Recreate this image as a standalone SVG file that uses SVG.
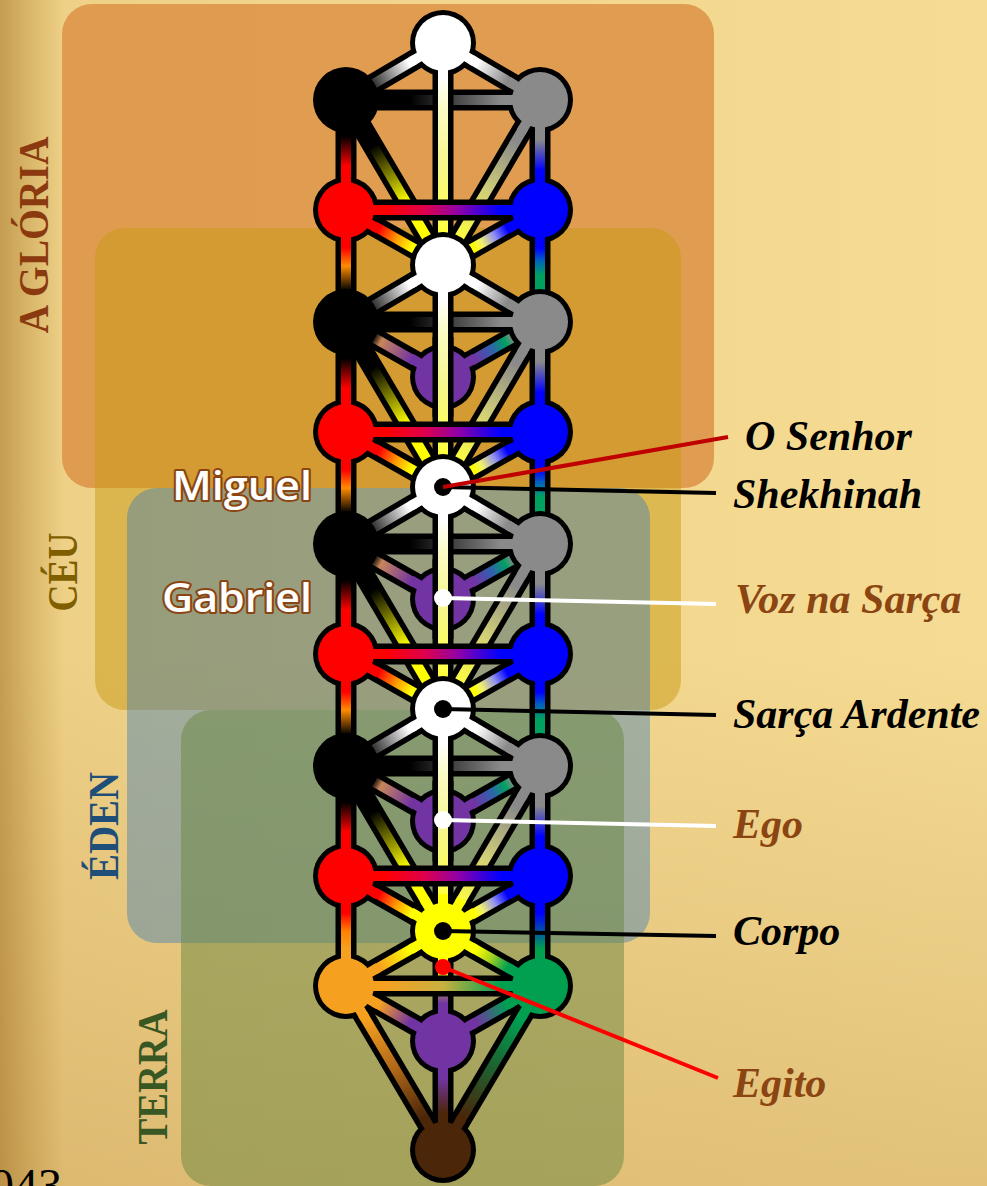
<svg xmlns="http://www.w3.org/2000/svg" width="987" height="1186" viewBox="0 0 987 1186">
<style>
.o{stroke:#000;stroke-width:21;stroke-linecap:round}
.ob{stroke:#000;stroke-width:21;stroke-linecap:butt}
.i{stroke-width:10;stroke-linecap:butt;fill:none}
.sp{stroke-width:10;stroke-linecap:butt;fill:none}
.ring{fill:#000}
.region{font-family:"Liberation Serif","Times New Roman",serif;font-weight:bold;font-size:42px}
.lbl{font-family:"Liberation Serif","Times New Roman",serif;font-weight:bold;font-style:italic;font-size:42px}
.angel{font-family:"Open Sans","Noto Sans",sans-serif;font-weight:600;font-size:39px;fill:#fff;stroke:#8b4513;stroke-width:4;paint-order:stroke;stroke-linejoin:round}
</style>
<defs>
<linearGradient id="bgH" x1="0" y1="0" x2="1" y2="0">
<stop offset="0" stop-color="#c49c52"/><stop offset=".035" stop-color="#dcbb6e"/><stop offset=".065" stop-color="#eed087"/><stop offset=".3" stop-color="#f1d48c"/><stop offset="1" stop-color="#f5db93"/>
</linearGradient>
<linearGradient id="bgV" x1="0" y1="0" x2="0" y2="1">
<stop offset="0" stop-color="#a06a20" stop-opacity="0"/><stop offset=".55" stop-color="#a06a20" stop-opacity="0"/><stop offset="1" stop-color="#a06a20" stop-opacity=".22"/>
</linearGradient>
<linearGradient id="gWB" gradientUnits="userSpaceOnUse" x1="443" y1="0" x2="346" y2="57"><stop offset=".35" stop-color="#fff"/><stop offset=".8" stop-color="#000"/></linearGradient>
<linearGradient id="gWG" gradientUnits="userSpaceOnUse" x1="443" y1="0" x2="540" y2="57"><stop offset=".35" stop-color="#fff"/><stop offset=".66" stop-color="#8a8a8a"/></linearGradient>
<linearGradient id="gBG" gradientUnits="userSpaceOnUse" x1="346" y1="57" x2="540" y2="57"><stop offset=".33" stop-color="#000"/><stop offset=".8" stop-color="#8a8a8a"/></linearGradient>
<linearGradient id="gBR" gradientUnits="userSpaceOnUse" x1="346" y1="57" x2="346" y2="167"><stop offset=".33" stop-color="#000"/><stop offset=".6" stop-color="#f00"/></linearGradient>
<linearGradient id="gGBl" gradientUnits="userSpaceOnUse" x1="540" y1="57" x2="540" y2="167"><stop offset=".36" stop-color="#8a8a8a"/><stop offset=".64" stop-color="#00f"/></linearGradient>
<linearGradient id="gBP" gradientUnits="userSpaceOnUse" x1="346" y1="57" x2="443" y2="112"><stop offset=".28" stop-color="#000"/><stop offset=".36" stop-color="#c8865a"/><stop offset=".68" stop-color="#7134a2"/></linearGradient>
<linearGradient id="gGP" gradientUnits="userSpaceOnUse" x1="540" y1="57" x2="443" y2="112"><stop offset=".28" stop-color="#8a8a8a"/><stop offset=".36" stop-color="#00a060"/><stop offset=".5" stop-color="#3060b0"/><stop offset=".68" stop-color="#7134a2"/></linearGradient>
<linearGradient id="gBW" gradientUnits="userSpaceOnUse" x1="346" y1="57" x2="443" y2="222"><stop offset=".28" stop-color="#000"/><stop offset=".45" stop-color="#808000"/><stop offset=".62" stop-color="#ffff00"/></linearGradient>
<linearGradient id="gGW" gradientUnits="userSpaceOnUse" x1="540" y1="57" x2="443" y2="222"><stop offset=".25" stop-color="#8a8a8a"/><stop offset=".55" stop-color="#d0ce78"/><stop offset=".85" stop-color="#ffff40"/></linearGradient>
<linearGradient id="gCV" gradientUnits="userSpaceOnUse" x1="443" y1="0" x2="443" y2="222"><stop offset=".15" stop-color="#fff"/><stop offset=".3" stop-color="#fbfbc4"/><stop offset=".55" stop-color="#f6f68c"/><stop offset=".8" stop-color="#ffff50"/><stop offset="1" stop-color="#ff0"/></linearGradient>
<linearGradient id="gRW" gradientUnits="userSpaceOnUse" x1="346" y1="167" x2="443" y2="222"><stop offset=".34" stop-color="#f00"/><stop offset=".52" stop-color="#ff9a00"/><stop offset=".68" stop-color="#ff0"/></linearGradient>
<linearGradient id="gBlW" gradientUnits="userSpaceOnUse" x1="540" y1="167" x2="443" y2="222"><stop offset=".34" stop-color="#00f"/><stop offset=".47" stop-color="#9090f0"/><stop offset=".6" stop-color="#f0f070"/><stop offset=".68" stop-color="#ff0"/></linearGradient>
<linearGradient id="gRBl" gradientUnits="userSpaceOnUse" x1="346" y1="167" x2="540" y2="167"><stop offset=".2" stop-color="#f00"/><stop offset=".4" stop-color="#e0004a"/><stop offset=".58" stop-color="#9000a8"/><stop offset=".72" stop-color="#3000e0"/><stop offset=".8" stop-color="#00f"/></linearGradient>
<linearGradient id="gRL" gradientUnits="userSpaceOnUse" x1="346" y1="167" x2="346" y2="279"><stop offset=".34" stop-color="#f00"/><stop offset=".5" stop-color="#ff8c00"/><stop offset=".72" stop-color="#000"/></linearGradient>
<linearGradient id="gBlL" gradientUnits="userSpaceOnUse" x1="540" y1="167" x2="540" y2="279"><stop offset=".34" stop-color="#00f"/><stop offset=".45" stop-color="#0060c0"/><stop offset=".58" stop-color="#00a060"/><stop offset=".72" stop-color="#00a060"/><stop offset=".8" stop-color="#8a8a8a"/></linearGradient>
<linearGradient id="gRO" gradientUnits="userSpaceOnUse" x1="346" y1="167" x2="346" y2="277"><stop offset=".34" stop-color="#f00"/><stop offset=".5" stop-color="#ff8000"/><stop offset=".66" stop-color="#f6a020"/></linearGradient>
<linearGradient id="gBlGr" gradientUnits="userSpaceOnUse" x1="540" y1="167" x2="540" y2="277"><stop offset=".34" stop-color="#00f"/><stop offset=".66" stop-color="#00a050"/></linearGradient>
<linearGradient id="gYP" gradientUnits="userSpaceOnUse" x1="443" y1="0" x2="443" y2="110"><stop offset=".34" stop-color="#ff0"/><stop offset=".66" stop-color="#7134a2"/></linearGradient>
<linearGradient id="gOGr" gradientUnits="userSpaceOnUse" x1="346" y1="55" x2="540" y2="55"><stop offset=".2" stop-color="#f6a020"/><stop offset=".5" stop-color="#c8b040"/><stop offset=".8" stop-color="#00a050"/></linearGradient>
<linearGradient id="gYO" gradientUnits="userSpaceOnUse" x1="443" y1="0" x2="346" y2="55"><stop offset=".34" stop-color="#ff0"/><stop offset=".66" stop-color="#f6a020"/></linearGradient>
<linearGradient id="gYGr" gradientUnits="userSpaceOnUse" x1="443" y1="0" x2="540" y2="55"><stop offset=".34" stop-color="#ff0"/><stop offset=".5" stop-color="#a0d020"/><stop offset=".66" stop-color="#00a050"/></linearGradient>
<linearGradient id="gOP" gradientUnits="userSpaceOnUse" x1="346" y1="55" x2="443" y2="110"><stop offset=".34" stop-color="#f6a020"/><stop offset=".66" stop-color="#7134a2"/></linearGradient>
<linearGradient id="gGrP" gradientUnits="userSpaceOnUse" x1="540" y1="55" x2="443" y2="110"><stop offset=".34" stop-color="#00a050"/><stop offset=".66" stop-color="#7134a2"/></linearGradient>
<linearGradient id="gOBr" gradientUnits="userSpaceOnUse" x1="346" y1="55" x2="443" y2="219"><stop offset=".2" stop-color="#f6a020"/><stop offset=".5" stop-color="#b06818"/><stop offset=".8" stop-color="#4b2609"/></linearGradient>
<linearGradient id="gGrBr" gradientUnits="userSpaceOnUse" x1="540" y1="55" x2="443" y2="219"><stop offset=".2" stop-color="#00a050"/><stop offset=".5" stop-color="#1e6030"/><stop offset=".8" stop-color="#4b2609"/></linearGradient>
<linearGradient id="gPBr" gradientUnits="userSpaceOnUse" x1="443" y1="110" x2="443" y2="219"><stop offset=".34" stop-color="#7134a2"/><stop offset=".66" stop-color="#4b2609"/></linearGradient>
</defs>

<rect width="987" height="1186" fill="url(#bgH)"/>
<rect width="987" height="1186" fill="url(#bgV)"/>

<g id="regions">
<rect id="r-gloria" x="62" y="4" width="652" height="484" rx="30" fill="#d98a3c" fill-opacity=".75"/>
<rect id="r-ceu" x="95" y="228" width="586" height="482" rx="30" fill="#c79914" fill-opacity=".5"/>
<rect id="r-eden" x="127" y="488" width="523" height="455" rx="30" fill="#4581b6" fill-opacity=".45"/>
<rect id="r-terra" x="181" y="710" width="443" height="476" rx="30" fill="#698641" fill-opacity=".5"/>
<text class="region" fill="#8b3a0f" text-anchor="middle" textLength="197" lengthAdjust="spacingAndGlyphs" transform="translate(48,235) rotate(-90)">A GLÓRIA</text>
<text class="region" fill="#7f5f00" text-anchor="middle" textLength="79" lengthAdjust="spacingAndGlyphs" transform="translate(77,572) rotate(-90)">CÉU</text>
<text class="region" fill="#1f4e79" text-anchor="middle" textLength="108" lengthAdjust="spacingAndGlyphs" transform="translate(118,826) rotate(-90)">ÉDEN</text>
<text class="region" fill="#385723" text-anchor="middle" textLength="135" lengthAdjust="spacingAndGlyphs" transform="translate(167,1077) rotate(-90)">TERRA</text>
</g>

<g id="connectors">
<g id="paths-1" transform="translate(0,43)">
<line class="o" x1="443" y1="0" x2="346" y2="57"/><line class="i" stroke="url(#gWB)" x1="443" y1="0" x2="346" y2="57"/>
<line class="o" x1="443" y1="0" x2="540" y2="57"/><line class="i" stroke="url(#gWG)" x1="443" y1="0" x2="540" y2="57"/>
<line class="o" x1="346" y1="57" x2="540" y2="57"/><line class="i" stroke="url(#gBG)" x1="346" y1="57" x2="540" y2="57"/>
<line class="o" x1="346" y1="57" x2="346" y2="167"/><line class="i" stroke="url(#gBR)" x1="346" y1="57" x2="346" y2="167"/>
<line class="o" x1="540" y1="57" x2="540" y2="167"/><line class="i" stroke="url(#gGBl)" x1="540" y1="57" x2="540" y2="167"/>
<line class="o" x1="346" y1="57" x2="443" y2="222"/><line class="i" stroke="url(#gBW)" x1="346" y1="57" x2="443" y2="222"/>
<line class="o" x1="540" y1="57" x2="443" y2="222"/><line class="i" stroke="url(#gGW)" x1="540" y1="57" x2="443" y2="222"/>
<line class="o" x1="443" y1="0" x2="443" y2="222"/><line class="i" stroke="url(#gCV)" x1="443" y1="0" x2="443" y2="222"/>
<line class="o" x1="346" y1="167" x2="443" y2="222"/><line class="i" stroke="url(#gRW)" x1="346" y1="167" x2="443" y2="222"/>
<line class="o" x1="540" y1="167" x2="443" y2="222"/><line class="i" stroke="url(#gBlW)" x1="540" y1="167" x2="443" y2="222"/>
<line class="o" x1="346" y1="167" x2="540" y2="167"/><line class="i" stroke="url(#gRBl)" x1="346" y1="167" x2="540" y2="167"/>
<line class="o" x1="346" y1="167" x2="346" y2="279"/><line class="i" stroke="url(#gRL)" x1="346" y1="167" x2="346" y2="279"/>
<line class="o" x1="540" y1="167" x2="540" y2="279"/><line class="i" stroke="url(#gBlL)" x1="540" y1="167" x2="540" y2="279"/>
</g>
<g id="paths-2" transform="translate(0,265)">
<line class="o" x1="443" y1="0" x2="346" y2="57"/><line class="i" stroke="url(#gWB)" x1="443" y1="0" x2="346" y2="57"/>
<line class="o" x1="443" y1="0" x2="540" y2="57"/><line class="i" stroke="url(#gWG)" x1="443" y1="0" x2="540" y2="57"/>
<line class="o" x1="346" y1="57" x2="540" y2="57"/><line class="i" stroke="url(#gBG)" x1="346" y1="57" x2="540" y2="57"/>
<line class="o" x1="346" y1="57" x2="346" y2="167"/><line class="i" stroke="url(#gBR)" x1="346" y1="57" x2="346" y2="167"/>
<line class="o" x1="540" y1="57" x2="540" y2="167"/><line class="i" stroke="url(#gGBl)" x1="540" y1="57" x2="540" y2="167"/>
<line class="o" x1="346" y1="57" x2="443" y2="112"/><line class="i" stroke="url(#gBP)" x1="346" y1="57" x2="443" y2="112"/>
<line class="o" x1="540" y1="57" x2="443" y2="112"/><line class="i" stroke="url(#gGP)" x1="540" y1="57" x2="443" y2="112"/>
<line class="o" x1="346" y1="57" x2="443" y2="222"/><line class="i" stroke="url(#gBW)" x1="346" y1="57" x2="443" y2="222"/>
<line class="o" x1="540" y1="57" x2="443" y2="222"/><line class="i" stroke="url(#gGW)" x1="540" y1="57" x2="443" y2="222"/>
<line class="o" x1="443" y1="0" x2="443" y2="222"/><line class="i" stroke="url(#gCV)" x1="443" y1="0" x2="443" y2="222"/>
<line class="o" x1="346" y1="167" x2="443" y2="222"/><line class="i" stroke="url(#gRW)" x1="346" y1="167" x2="443" y2="222"/>
<line class="o" x1="540" y1="167" x2="443" y2="222"/><line class="i" stroke="url(#gBlW)" x1="540" y1="167" x2="443" y2="222"/>
<line class="o" x1="346" y1="167" x2="540" y2="167"/><line class="i" stroke="url(#gRBl)" x1="346" y1="167" x2="540" y2="167"/>
<line class="o" x1="346" y1="167" x2="346" y2="279"/><line class="i" stroke="url(#gRL)" x1="346" y1="167" x2="346" y2="279"/>
<line class="o" x1="540" y1="167" x2="540" y2="279"/><line class="i" stroke="url(#gBlL)" x1="540" y1="167" x2="540" y2="279"/>
</g>
<g id="paths-3" transform="translate(0,487)">
<line class="o" x1="443" y1="0" x2="346" y2="57"/><line class="i" stroke="url(#gWB)" x1="443" y1="0" x2="346" y2="57"/>
<line class="o" x1="443" y1="0" x2="540" y2="57"/><line class="i" stroke="url(#gWG)" x1="443" y1="0" x2="540" y2="57"/>
<line class="o" x1="346" y1="57" x2="540" y2="57"/><line class="i" stroke="url(#gBG)" x1="346" y1="57" x2="540" y2="57"/>
<line class="o" x1="346" y1="57" x2="346" y2="167"/><line class="i" stroke="url(#gBR)" x1="346" y1="57" x2="346" y2="167"/>
<line class="o" x1="540" y1="57" x2="540" y2="167"/><line class="i" stroke="url(#gGBl)" x1="540" y1="57" x2="540" y2="167"/>
<line class="o" x1="346" y1="57" x2="443" y2="112"/><line class="i" stroke="url(#gBP)" x1="346" y1="57" x2="443" y2="112"/>
<line class="o" x1="540" y1="57" x2="443" y2="112"/><line class="i" stroke="url(#gGP)" x1="540" y1="57" x2="443" y2="112"/>
<line class="o" x1="346" y1="57" x2="443" y2="222"/><line class="i" stroke="url(#gBW)" x1="346" y1="57" x2="443" y2="222"/>
<line class="o" x1="540" y1="57" x2="443" y2="222"/><line class="i" stroke="url(#gGW)" x1="540" y1="57" x2="443" y2="222"/>
<line class="o" x1="443" y1="0" x2="443" y2="222"/><line class="i" stroke="url(#gCV)" x1="443" y1="0" x2="443" y2="222"/>
<line class="o" x1="346" y1="167" x2="443" y2="222"/><line class="i" stroke="url(#gRW)" x1="346" y1="167" x2="443" y2="222"/>
<line class="o" x1="540" y1="167" x2="443" y2="222"/><line class="i" stroke="url(#gBlW)" x1="540" y1="167" x2="443" y2="222"/>
<line class="o" x1="346" y1="167" x2="540" y2="167"/><line class="i" stroke="url(#gRBl)" x1="346" y1="167" x2="540" y2="167"/>
<line class="o" x1="346" y1="167" x2="346" y2="279"/><line class="i" stroke="url(#gRL)" x1="346" y1="167" x2="346" y2="279"/>
<line class="o" x1="540" y1="167" x2="540" y2="279"/><line class="i" stroke="url(#gBlL)" x1="540" y1="167" x2="540" y2="279"/>
</g>
<g id="paths-4" transform="translate(0,709)">
<line class="o" x1="443" y1="0" x2="346" y2="57"/><line class="i" stroke="url(#gWB)" x1="443" y1="0" x2="346" y2="57"/>
<line class="o" x1="443" y1="0" x2="540" y2="57"/><line class="i" stroke="url(#gWG)" x1="443" y1="0" x2="540" y2="57"/>
<line class="o" x1="346" y1="57" x2="540" y2="57"/><line class="i" stroke="url(#gBG)" x1="346" y1="57" x2="540" y2="57"/>
<line class="o" x1="346" y1="57" x2="346" y2="167"/><line class="i" stroke="url(#gBR)" x1="346" y1="57" x2="346" y2="167"/>
<line class="o" x1="540" y1="57" x2="540" y2="167"/><line class="i" stroke="url(#gGBl)" x1="540" y1="57" x2="540" y2="167"/>
<line class="o" x1="346" y1="57" x2="443" y2="112"/><line class="i" stroke="url(#gBP)" x1="346" y1="57" x2="443" y2="112"/>
<line class="o" x1="540" y1="57" x2="443" y2="112"/><line class="i" stroke="url(#gGP)" x1="540" y1="57" x2="443" y2="112"/>
<line class="o" x1="346" y1="57" x2="443" y2="222"/><line class="i" stroke="url(#gBW)" x1="346" y1="57" x2="443" y2="222"/>
<line class="o" x1="540" y1="57" x2="443" y2="222"/><line class="i" stroke="url(#gGW)" x1="540" y1="57" x2="443" y2="222"/>
<line class="o" x1="443" y1="0" x2="443" y2="222"/><line class="i" stroke="url(#gCV)" x1="443" y1="0" x2="443" y2="222"/>
<line class="o" x1="346" y1="167" x2="443" y2="222"/><line class="i" stroke="url(#gRW)" x1="346" y1="167" x2="443" y2="222"/>
<line class="o" x1="540" y1="167" x2="443" y2="222"/><line class="i" stroke="url(#gBlW)" x1="540" y1="167" x2="443" y2="222"/>
<line class="o" x1="346" y1="167" x2="540" y2="167"/><line class="i" stroke="url(#gRBl)" x1="346" y1="167" x2="540" y2="167"/>
<line class="o" x1="346" y1="167" x2="346" y2="277"/><line class="i" stroke="url(#gRO)" x1="346" y1="167" x2="346" y2="277"/>
<line class="o" x1="540" y1="167" x2="540" y2="277"/><line class="i" stroke="url(#gBlGr)" x1="540" y1="167" x2="540" y2="277"/>
</g>
<g id="paths-5" transform="translate(0,931)">
<line class="o" x1="443" y1="0" x2="443" y2="110"/><line class="i" stroke="url(#gYP)" x1="443" y1="0" x2="443" y2="110"/>
<line class="o" x1="346" y1="55" x2="540" y2="55"/><line class="i" stroke="url(#gOGr)" x1="346" y1="55" x2="540" y2="55"/>
<line class="o" x1="443" y1="0" x2="346" y2="55"/><line class="i" stroke="url(#gYO)" x1="443" y1="0" x2="346" y2="55"/>
<line class="o" x1="443" y1="0" x2="540" y2="55"/><line class="i" stroke="url(#gYGr)" x1="443" y1="0" x2="540" y2="55"/>
<line class="o" x1="346" y1="55" x2="443" y2="110"/><line class="i" stroke="url(#gOP)" x1="346" y1="55" x2="443" y2="110"/>
<line class="o" x1="540" y1="55" x2="443" y2="110"/><line class="i" stroke="url(#gGrP)" x1="540" y1="55" x2="443" y2="110"/>
<line class="o" x1="346" y1="55" x2="443" y2="219"/><line class="i" stroke="url(#gOBr)" x1="346" y1="55" x2="443" y2="219"/>
<line class="o" x1="540" y1="55" x2="443" y2="219"/><line class="i" stroke="url(#gGrBr)" x1="540" y1="55" x2="443" y2="219"/>
<line class="o" x1="443" y1="110" x2="443" y2="219"/><line class="i" stroke="url(#gPBr)" x1="443" y1="110" x2="443" y2="219"/>
</g>
</g>

<g id="nodes">
<g id="n-w1"><circle class="ring" cx="443" cy="43" r="33"/><circle cx="443" cy="43" r="28" fill="#fff"/><path class="sp" stroke="#fff" d="M443 43l-31.9 18.8M443 43l31.9 18.8M443 43v37"/></g>
<g id="n-b1"><circle class="ring" cx="346" cy="100" r="33"/><circle cx="346" cy="100" r="28" fill="#000"/></g>
<g id="n-g1"><circle class="ring" cx="540" cy="100" r="33"/><circle cx="540" cy="100" r="28" fill="#8a8a8a"/><path class="sp" stroke="#8a8a8a" d="M540 100h-37M540 100v37M540 100l-18.8 31.9M540 100l-31.9-18.8"/></g>
<g id="n-r1"><circle class="ring" cx="346" cy="210" r="33"/><circle cx="346" cy="210" r="28" fill="#f00"/><path class="sp" stroke="#f00" d="M346 210h37M346 210l31.9 18.8M346 210v-37M346 210v37"/></g>
<g id="n-bl1"><circle class="ring" cx="540" cy="210" r="33"/><circle cx="540" cy="210" r="28" fill="#00f"/><path class="sp" stroke="#00f" d="M540 210h-37M540 210l-31.9 18.8M540 210v-37M540 210v37"/></g>

<g id="n-w2"><circle class="ring" cx="443" cy="265" r="33"/><circle cx="443" cy="265" r="28" fill="#fff"/><path class="sp" stroke="#fff" d="M443 265l-31.9 18.8M443 265l31.9 18.8M443 265v37"/></g>
<g id="n-b2"><circle class="ring" cx="346" cy="322" r="33"/><circle cx="346" cy="322" r="28" fill="#000"/></g>
<g id="n-g2"><circle class="ring" cx="540" cy="322" r="33"/><circle cx="540" cy="322" r="28" fill="#8a8a8a"/><path class="sp" stroke="#8a8a8a" d="M540 322h-37M540 322v37M540 322l-18.8 31.9M540 322l-31.9-18.8"/></g>
<g id="n-p2"><circle class="ring" cx="443" cy="377" r="33"/><circle cx="443" cy="377" r="28" fill="#7134a2"/><path class="sp" stroke="#7134a2" d="M443 377l-31.9-18.8M443 377l31.9-18.8"/></g>
<g id="n-r2"><circle class="ring" cx="346" cy="432" r="33"/><circle cx="346" cy="432" r="28" fill="#f00"/><path class="sp" stroke="#f00" d="M346 432h37M346 432l31.9 18.8M346 432v-37M346 432v37"/></g>
<g id="n-bl2"><circle class="ring" cx="540" cy="432" r="33"/><circle cx="540" cy="432" r="28" fill="#00f"/><path class="sp" stroke="#00f" d="M540 432h-37M540 432l-31.9 18.8M540 432v-37M540 432v37"/></g>

<g id="n-w3"><circle class="ring" cx="443" cy="487" r="33"/><circle cx="443" cy="487" r="28" fill="#fff"/><path class="sp" stroke="#fff" d="M443 487l-31.9 18.8M443 487l31.9 18.8M443 487v37"/></g>
<g id="n-b3"><circle class="ring" cx="346" cy="544" r="33"/><circle cx="346" cy="544" r="28" fill="#000"/></g>
<g id="n-g3"><circle class="ring" cx="540" cy="544" r="33"/><circle cx="540" cy="544" r="28" fill="#8a8a8a"/><path class="sp" stroke="#8a8a8a" d="M540 544h-37M540 544v37M540 544l-18.8 31.9M540 544l-31.9-18.8"/></g>
<g id="n-p3"><circle class="ring" cx="443" cy="599" r="33"/><circle cx="443" cy="599" r="28" fill="#7134a2"/><path class="sp" stroke="#7134a2" d="M443 599l-31.9-18.8M443 599l31.9-18.8"/></g>
<g id="n-r3"><circle class="ring" cx="346" cy="654" r="33"/><circle cx="346" cy="654" r="28" fill="#f00"/><path class="sp" stroke="#f00" d="M346 654h37M346 654l31.9 18.8M346 654v-37M346 654v37"/></g>
<g id="n-bl3"><circle class="ring" cx="540" cy="654" r="33"/><circle cx="540" cy="654" r="28" fill="#00f"/><path class="sp" stroke="#00f" d="M540 654h-37M540 654l-31.9 18.8M540 654v-37M540 654v37"/></g>

<g id="n-w4"><circle class="ring" cx="443" cy="709" r="33"/><circle cx="443" cy="709" r="28" fill="#fff"/><path class="sp" stroke="#fff" d="M443 709l-31.9 18.8M443 709l31.9 18.8M443 709v37"/></g>
<g id="n-b4"><circle class="ring" cx="346" cy="766" r="33"/><circle cx="346" cy="766" r="28" fill="#000"/></g>
<g id="n-g4"><circle class="ring" cx="540" cy="766" r="33"/><circle cx="540" cy="766" r="28" fill="#8a8a8a"/><path class="sp" stroke="#8a8a8a" d="M540 766h-37M540 766v37M540 766l-18.8 31.9M540 766l-31.9-18.8"/></g>
<g id="n-p4"><circle class="ring" cx="443" cy="821" r="33"/><circle cx="443" cy="821" r="28" fill="#7134a2"/><path class="sp" stroke="#7134a2" d="M443 821l-31.9-18.8M443 821l31.9-18.8"/></g>
<g id="n-r4"><circle class="ring" cx="346" cy="876" r="33"/><circle cx="346" cy="876" r="28" fill="#f00"/><path class="sp" stroke="#f00" d="M346 876h37M346 876l31.9 18.8M346 876v-37M346 876v37"/></g>
<g id="n-bl4"><circle class="ring" cx="540" cy="876" r="33"/><circle cx="540" cy="876" r="28" fill="#00f"/><path class="sp" stroke="#00f" d="M540 876h-37M540 876l-31.9 18.8M540 876v-37M540 876v37"/></g>

<g id="n-y"><circle class="ring" cx="443" cy="931" r="33"/><circle cx="443" cy="931" r="28" fill="#ff0"/><path class="sp" stroke="#ff0" d="M443 931l-18.8-31.9M443 931l18.8-31.9M443 931l-31.9-18.8M443 931l31.9-18.8M443 931v-37M443 931l-32.2 18.3M443 931l32.2 18.3M443 931v37"/></g>
<g id="n-o"><circle class="ring" cx="346" cy="986" r="33"/><circle cx="346" cy="986" r="28" fill="#f6a020"/><path class="sp" stroke="#f6a020" d="M346 986v-37M346 986l32.2-18.3M346 986h37M346 986l32.2 18.3M346 986l18.8 31.9"/></g>
<g id="n-gr"><circle class="ring" cx="540" cy="986" r="33"/><circle cx="540" cy="986" r="28" fill="#00a050"/><path class="sp" stroke="#00a050" d="M540 986v-37M540 986l-32.2-18.3M540 986h-37M540 986l-32.2 18.3M540 986l-18.8 31.9"/></g>
<g id="n-p5"><circle class="ring" cx="443" cy="1041" r="33"/><circle cx="443" cy="1041" r="28" fill="#7134a2"/><path class="sp" stroke="#7134a2" d="M443 1041v-37M443 1041l-32.2-18.3M443 1041l32.2-18.3M443 1041v37"/></g>
<g id="n-br"><circle class="ring" cx="443" cy="1150" r="33"/><circle cx="443" cy="1150" r="28" fill="#4b2609"/><path class="sp" stroke="#4b2609" d="M443 1150v-37M443 1150l-18.8-31.9M443 1150l18.8-31.9"/></g>
</g>

<g id="connectors-over">
<g transform="translate(0,265)"><line class="ob" x1="443" y1="72" x2="443" y2="152"/><line class="i" stroke="url(#gCV)" x1="443" y1="72" x2="443" y2="152"/></g>
<g transform="translate(0,487)"><line class="ob" x1="443" y1="72" x2="443" y2="152"/><line class="i" stroke="url(#gCV)" x1="443" y1="72" x2="443" y2="152"/></g>
<g transform="translate(0,709)"><line class="ob" x1="443" y1="72" x2="443" y2="152"/><line class="i" stroke="url(#gCV)" x1="443" y1="72" x2="443" y2="152"/></g>
</g>

<g id="callouts">
<circle cx="443" cy="487" r="9" fill="#000"/>
<line x1="443" y1="487" x2="716" y2="493" stroke="#000" stroke-width="4"/>
<line x1="443" y1="487" x2="728" y2="437" stroke="#c00000" stroke-width="4"/>
<circle cx="443" cy="598" r="9" fill="#fff"/>
<line x1="443" y1="598" x2="716" y2="604" stroke="#fff" stroke-width="4"/>
<circle cx="443" cy="709" r="9" fill="#000"/>
<line x1="443" y1="709" x2="716" y2="715" stroke="#000" stroke-width="4"/>
<circle cx="443" cy="820" r="9" fill="#fff"/>
<line x1="443" y1="820" x2="716" y2="826" stroke="#fff" stroke-width="4"/>
<circle cx="443" cy="931" r="9" fill="#000"/>
<line x1="443" y1="931" x2="716" y2="936" stroke="#000" stroke-width="4"/>
<line x1="443" y1="967" x2="718" y2="1078" stroke="#ff0000" stroke-width="4"/>
<circle cx="443" cy="967" r="8" fill="#ff0000"/>
</g>

<g id="labels">
<text class="lbl" x="745" y="450" fill="#000">O Senhor</text>
<text class="lbl" x="733" y="508" fill="#000">Shekhinah</text>
<text class="lbl" x="735" y="613" fill="#8b4513">Voz na Sarça</text>
<text class="lbl" x="733" y="728" fill="#000">Sarça Ardente</text>
<text class="lbl" x="733" y="838" fill="#8b4513">Ego</text>
<text class="lbl" x="733" y="945" fill="#000">Corpo</text>
<text class="lbl" x="733" y="1097" fill="#8b4513">Egito</text>
<text class="angel" x="172" y="500" textLength="140" lengthAdjust="spacingAndGlyphs">Miguel</text>
<text class="angel" x="162" y="612" textLength="150" lengthAdjust="spacingAndGlyphs">Gabriel</text>
<text x="-10" y="1202" font-family="Liberation Serif, serif" font-size="48" fill="#000">043</text>
</g>
</svg>
